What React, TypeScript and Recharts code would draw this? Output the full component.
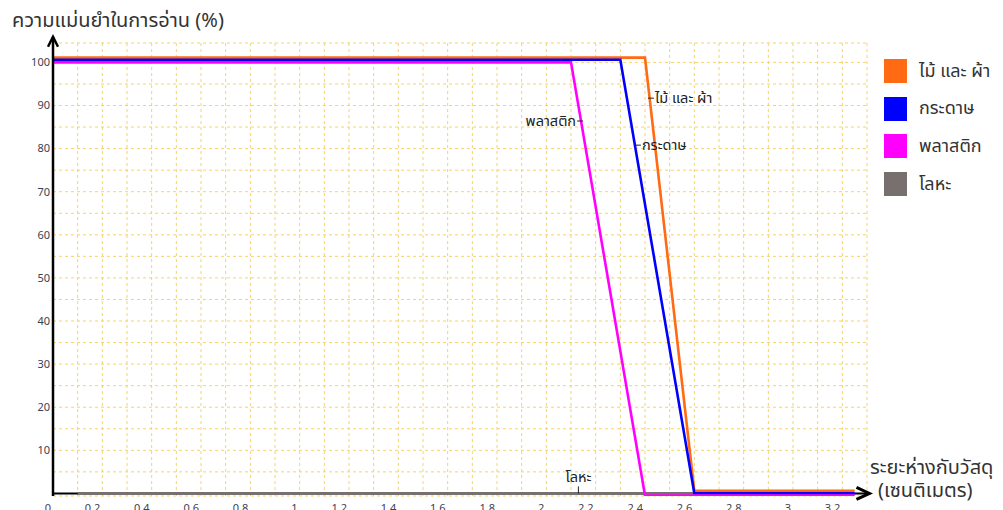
import React from 'react';
import {
    LineChart,
    Line,
    XAxis,
    YAxis,
    CartesianGrid,
    Legend,
    ReferenceLine,
    ReferenceDot
} from 'recharts';

// series names and colours (legend order)
const seriesNames = ['ไม้ และ ผ้า', 'กระดาษ', 'พลาสติก', 'โลหะ'];
const seriesColors = ['#ff6a13', '#0000ff', '#ff00ff', '#77706e'];

// distance (cm) / reading accuracy (%) for each material
const woodDistance = [0, 2.4, 2.6, 3.25];
const woodAccuracy = [101.1, 101.1, 0.6, 0.6];
const paperDistance = [0, 2.3, 2.6, 3.25];
const paperAccuracy = [100.6, 100.6, 0, 0];
const plasticDistance = [0, 2.1, 2.4, 3.25];
const plasticAccuracy = [100, 100, -0.5, -0.5];
const metalDistance = [0.1, 3.25];
const metalAccuracy = [0, 0];

// axes
const xTicks = [0, 0.1, 0.2, 0.3, 0.4, 0.5, 0.6, 0.7, 0.8, 0.9, 1, 1.1, 1.2, 1.3, 1.4, 1.5, 1.6, 1.7, 1.8, 1.9, 2, 2.1, 2.2, 2.3, 2.4, 2.5, 2.6, 2.7, 2.8, 2.9, 3, 3.1, 3.2];
const xTickLabels = [0, 0.2, 0.4, 0.6, 0.8, 1, 1.2, 1.4, 1.6, 1.8, 2, 2.2, 2.4, 2.6, 2.8, 3, 3.2];
const yTicks = [5, 10, 15, 20, 25, 30, 35, 40, 45, 50, 55, 60, 65, 70, 75, 80, 85, 90, 95, 100];
const yTickLabels = [10, 20, 30, 40, 50, 60, 70, 80, 90, 100];

// where the little name tags sit on each line
const noteNames = ['ไม้ และ ผ้า', 'กระดาษ', 'พลาสติก', 'โลหะ'];
const noteX = [2.412, 2.359, 2.149, 2.13];
const noteY = [91.7, 80.8, 86.4, 0];
const noteSide = ['right', 'right', 'left', 'up'];

const FONT = "Tahoma, 'Noto Sans Thai', 'Leelawadee UI', 'DejaVu Sans', sans-serif";

const toPoints = (xs: number[], ys: number[]) => xs.map((x, i) => ({ x, y: ys[i] }));

const series = [
    { name: seriesNames[3], color: seriesColors[3], data: toPoints(metalDistance, metalAccuracy) },
    { name: seriesNames[0], color: seriesColors[0], data: toPoints(woodDistance, woodAccuracy) },
    { name: seriesNames[1], color: seriesColors[1], data: toPoints(paperDistance, paperAccuracy) },
    { name: seriesNames[2], color: seriesColors[2], data: toPoints(plasticDistance, plasticAccuracy) },
];

const YArrow = (p: any) => {
    const x = p.x1;
    const top = Math.min(p.y1, p.y2);
    const bottom = Math.max(p.y1, p.y2);
    return (
        <g>
            <line x1={x} y1={bottom} x2={x} y2={top} stroke="#000" strokeWidth={2.5} />
            <polyline points={`${x - 5},${top + 10} ${x},${top} ${x + 5},${top + 10}`} fill="none" stroke="#000" strokeWidth={2.5} />
        </g>
    );
};

const XArrow = (p: any) => {
    const y = p.y1;
    const left = Math.min(p.x1, p.x2);
    const right = Math.max(p.x1, p.x2);
    return (
        <g>
            <line x1={left} y1={y} x2={right} y2={y} stroke="#000" strokeWidth={2} />
            <polyline points={`${right - 13},${y - 6} ${right},${y} ${right - 13},${y + 6}`} fill="none" stroke="#000" strokeWidth={3} />
        </g>
    );
};

const makeNote = (text: string, side: string) => (p: any) => {
    const { cx, cy } = p;
    if (side === 'up') {
        return (
            <g>
                <line x1={cx} y1={cy - 7} x2={cx} y2={cy} stroke="#222" strokeWidth={1} />
                <text x={cx} y={cy - 11} textAnchor="middle" fontSize={14.5} fill="#222" fontFamily={FONT}>{text}</text>
            </g>
        );
    }
    if (side === 'left') {
        return (
            <g>
                <line x1={cx - 6} y1={cy} x2={cx} y2={cy} stroke="#222" strokeWidth={1} />
                <text x={cx - 7} y={cy} dy="0.35em" textAnchor="end" fontSize={14.5} fill="#222" fontFamily={FONT}>{text}</text>
            </g>
        );
    }
    return (
        <g>
            <line x1={cx} y1={cy} x2={cx + 6} y2={cy} stroke="#222" strokeWidth={1} />
            <text x={cx + 7} y={cy} dy="0.35em" fontSize={14.5} fill="#222" fontFamily={FONT}>{text}</text>
        </g>
    );
};

const tickValue = (p: any) => (p.payload && p.payload.value !== undefined ? p.payload.value : p.value);

const renderXTick = (p: any) => {
    const v = Number(tickValue(p));
    const show = xTickLabels.some((t) => Math.abs(t - v) < 1e-6);
    return (
        <text key={`xt-${v}`} x={p.x - 2} y={512} textAnchor="end" fontSize={11} fill="#3c4150" fontFamily={FONT}>
            {show ? String(v) : ''}
        </text>
    );
};

const renderYTick = (p: any) => {
    const v = Number(tickValue(p));
    const show = yTickLabels.some((t) => Math.abs(t - v) < 1e-6);
    return (
        <text key={`yt-${v}`} x={50} y={p.y} dy="0.35em" textAnchor="end" fontSize={11} fill="#3c4150" fontFamily={FONT}>
            {show ? String(v) : ''}
        </text>
    );
};

const LegendBox = (props: any) => {
    const items = [...(props.payload || [])].sort(
        (a: any, b: any) => seriesNames.indexOf(a.value) - seriesNames.indexOf(b.value)
    );
    return (
        <div style={{ fontFamily: FONT }}>
            {items.map((e: any) => (
                <div key={e.value} style={{ display: 'flex', alignItems: 'center', height: 24, marginBottom: 13.7 }}>
                    <span style={{ width: 23, height: 24, background: e.color, display: 'inline-block' }} />
                    <span style={{ marginLeft: 12, fontSize: 18, color: '#333', whiteSpace: 'nowrap' }}>{e.value}</span>
                </div>
            ))}
        </div>
    );
};

export default function App() {
    return (
        <div style={{ position: 'fixed', left: 0, top: 0, width: 1003, height: 510, background: '#fff', fontFamily: FONT, overflow: 'hidden' }}>
            <LineChart width={1003} height={510} margin={{ top: 43, right: 136, left: 52, bottom: 13 }}>
                <CartesianGrid stroke="#fcd35a" strokeDasharray="3 3" strokeWidth={1} />
                <XAxis
                    type="number"
                    dataKey="x"
                    domain={[0, 3.3]}
                    ticks={xTicks}
                    interval={0}
                    height={1}
                    axisLine={false}
                    tickLine={false}
                    tick={renderXTick}
                    allowDataOverflow
                />
                <YAxis
                    type="number"
                    domain={[-0.6, 104.5]}
                    ticks={yTicks}
                    interval={0}
                    width={1}
                    axisLine={false}
                    tickLine={false}
                    tick={renderYTick}
                    allowDataOverflow
                />
                <ReferenceLine segment={[{ x: 0, y: 0 }, { x: 3.31, y: 0 }]} ifOverflow="visible" shape={XArrow} />
                {series.map((s) => (
                    <Line
                        key={s.name}
                        data={s.data}
                        dataKey="y"
                        name={s.name}
                        type="linear"
                        stroke={s.color}
                        strokeWidth={2.6}
                        dot={false}
                        activeDot={false}
                        isAnimationActive={false}
                    />
                ))}
                <ReferenceLine segment={[{ x: 0, y: -0.6 }, { x: 0, y: 105.95 }]} ifOverflow="visible" shape={YArrow} />
                {noteNames.map((n, i) => (
                    <ReferenceDot key={n} x={noteX[i]} y={noteY[i]} r={0} ifOverflow="visible" shape={makeNote(n, noteSide[i])} />
                ))}
                <Legend
                    layout="vertical"
                    align="center"
                    verticalAlign="middle"
                    wrapperStyle={{ left: 884, top: 59, width: 119 }}
                    content={<LegendBox />}
                />
            </LineChart>
            <div style={{ position: 'absolute', left: 12, top: 8, fontSize: 20, color: '#333', whiteSpace: 'nowrap', lineHeight: '26px' }}>
                ความแม่นยำในการอ่าน (%)
            </div>
            <div style={{ position: 'absolute', left: 870, top: 457, fontSize: 20, color: '#333', whiteSpace: 'nowrap', lineHeight: '23px' }}>
                <div>ระยะห่างกับวัสดุ</div>
                <div style={{ paddingLeft: 8 }}>(เซนติเมตร)</div>
            </div>
        </div>
    );
}
